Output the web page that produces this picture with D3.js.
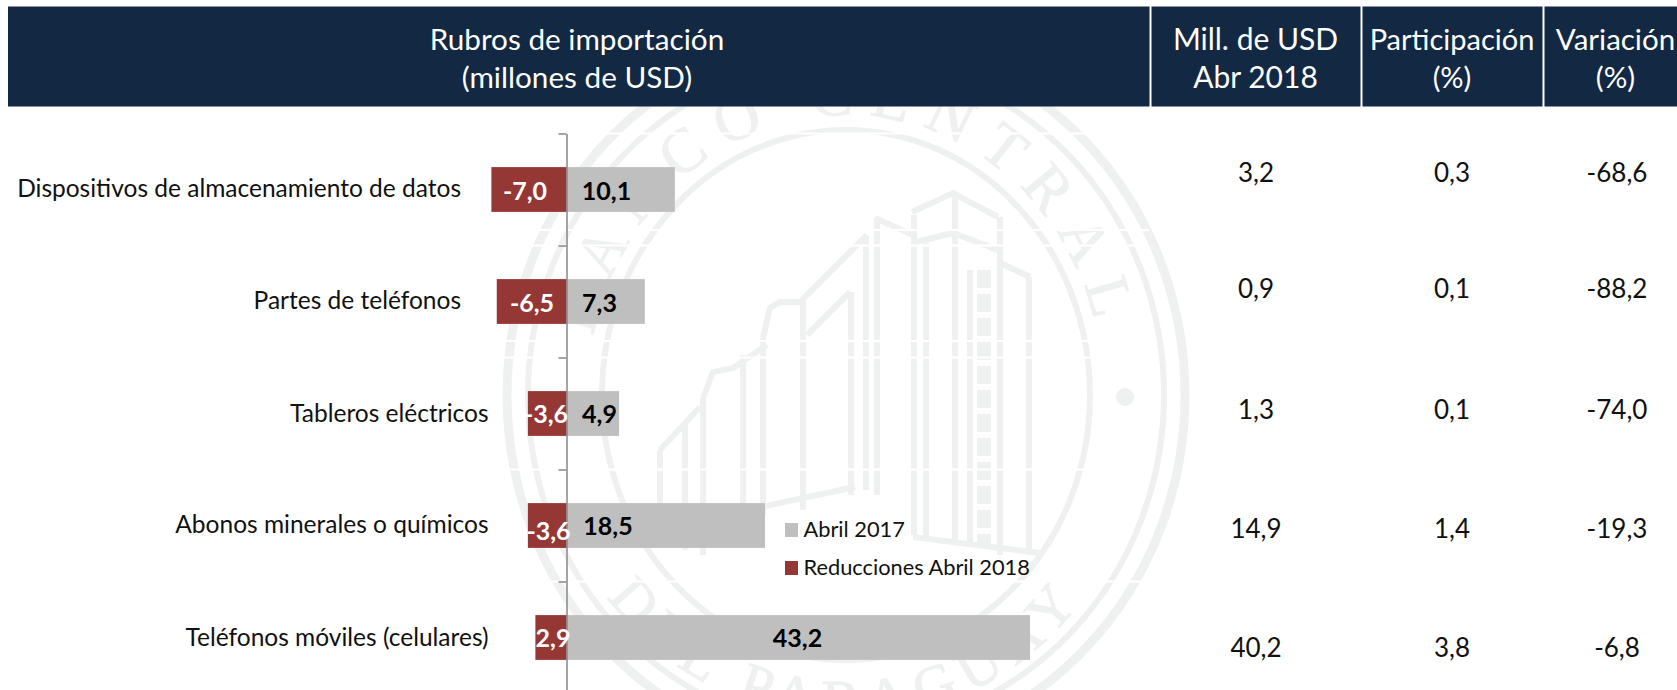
<!DOCTYPE html>
<html lang="es">
<head>
<meta charset="utf-8">
<title>Rubros de importación</title>
<script src="https://cdn.jsdelivr.net/npm/d3@7"></script>
<style>
    html, body { margin: 0; padding: 0; background: #fff; }
    svg { display: block; font-family: Lato, "Noto Sans", sans-serif; }
    .watermark { fill: none; stroke: #eef1ef; stroke-width: 6; }
    .watermark text { fill: #eef1ef; stroke: #eef1ef; stroke-width: 1; font-family: "Liberation Serif", serif; }
</style>
</head>
<body>
<svg id="chart" width="1677" height="690" role="img" aria-label="Rubros de importación"></svg>
<script>
// Values.
const categories = [
    "Dispositivos de almacenamiento de datos",
    "Partes de teléfonos",
    "Tableros eléctricos",
    "Abonos minerales o químicos",
    "Teléfonos móviles (celulares)",
];
const abril2017 = [10.1, 7.3, 4.9, 18.5, 43.2];
const reducciones = [-7.0, -6.5, -3.6, -3.6, -2.9];
const millUsd = [3.2, 0.9, 1.3, 14.9, 40.2];
const participacion = [0.3, 0.1, 0.1, 1.4, 3.8];
const variacion = [-68.6, -88.2, -74.0, -19.3, -6.8];
const seriesNames = ["Abril 2017", "Reducciones Abril 2018"];

const GREY = "#bfbfbf";
const RED = "#953735";
const NAVY = "#132842";

// Hand placement from the source slide: the labels are not aligned to anything.
const LABEL_RIGHT = [461, 461, 488.5, 488.5, 488.5];
const LABEL_BASE = [197, 309, 422, 533, 646];
const VALUE_BASE = [182, 298, 419, 538, 657];
const GREY_LABEL_X = [606.5, 599.5, 599.5, 608, 797.5];
const GREY_LABEL_BASE = [200, 312, 423, 535, 647];
const RED_LABEL_X = [525, 532, 546, 548.5, 553];
const RED_LABEL_BASE = [200, 312, 423, 540, 647];
// Thin white seams across the seal, besides the gridlines.
const SEAMS_Y = [230, 341];

const svg = d3.select("#chart");
const decimal = d3.formatLocale({
    decimal: ",", thousands: ".", grouping: [3], currency: ["", ""], minus: "-",
}).format(".1f");

const x = d3.scaleLinear().domain([0, 10]).range([566.5, 673.8]);
const y = d3.scaleBand()
    .domain(categories)
    .range([133.5, 693.5])
    .paddingInner(0.6)
    .paddingOuter(0.3);
const tickY = d3.scaleLinear().domain([0, 5]).range([133.5, 693.5]);

drawWatermark(svg.append("g").attr("class", "watermark"));

// White gridlines cut through the seal, as they do in the source.
svg.append("g")
    .selectAll("line")
    .data([0, 1, 2, 3, 4].map((d) => tickY(d)).concat(SEAMS_Y))
    .join("line")
    .attr("x1", 490).attr("x2", 1149)
    .attr("y1", (d) => d).attr("y2", (d) => d)
    .attr("stroke", "#fff").attr("stroke-width", 2);

// Header bands.
const HEADER_CELLS = [[8, 1149.5], [1151.5, 1360.5], [1362.5, 1542.5], [1544.5, 1677]];
svg.append("g")
    .selectAll("rect")
    .data(HEADER_CELLS)
    .join("rect")
    .attr("x", (d) => d[0]).attr("width", (d) => d[1] - d[0])
    .attr("y", 6.5).attr("height", 100)
    .attr("fill", NAVY);

const HEADER_TEXT = [
    { x: 577, size: 29.7, lines: ["Rubros de importación", "(millones de USD)"] },
    { x: 1255.5, size: 30, lines: ["Mill. de USD", "Abr 2018"] },
    { x: 1452, size: 29, lines: ["Participación", "(%)"] },
    { x: 1615.5, size: 29.5, lines: ["Variación", "(%)"] },
];
const headerGroups = svg.append("g")
    .selectAll("g")
    .data(HEADER_TEXT)
    .join("g");
headerGroups.selectAll("text")
    .data((d) => d.lines.map((line, i) => ({ line, i, x: d.x, size: d.size })))
    .join("text")
    .attr("x", (d) => d.x)
    .attr("y", (d) => (d.i === 0 ? 50 : 88))
    .attr("text-anchor", "middle")
    .attr("fill", "#fff")
    .attr("font-size", (d) => d.size)
    .text((d) => d.line);

// Bars.
const rows = categories.map((name, i) => ({ name, i }));
svg.append("g")
    .selectAll("rect")
    .data(rows)
    .join("rect")
    .attr("x", x(0))
    .attr("y", (d) => y(d.name))
    .attr("width", (d) => x(abril2017[d.i]) - x(0))
    .attr("height", y.bandwidth())
    .attr("fill", GREY);
svg.append("g")
    .selectAll("rect")
    .data(rows)
    .join("rect")
    .attr("x", (d) => x(reducciones[d.i]))
    .attr("y", (d) => y(d.name))
    .attr("width", (d) => x(0) - x(reducciones[d.i]))
    .attr("height", y.bandwidth())
    .attr("fill", RED);

// Vertical axis: ticks sit on the band edges, no tick labels.
const axis = svg.append("g")
    .attr("transform", `translate(${x(0)},0)`)
    .call(d3.axisLeft(tickY).tickValues([0, 1, 2, 3, 4]).tickSize(8).tickSizeOuter(0).tickFormat(""));
axis.selectAll("line").attr("stroke", "#868686").attr("stroke-width", 1.5);
axis.select(".domain").attr("stroke", "#868686").attr("stroke-width", 1.5);

// Category labels.
svg.append("g")
    .selectAll("text")
    .data(rows)
    .join("text")
    .attr("x", (d) => LABEL_RIGHT[d.i])
    .attr("y", (d) => LABEL_BASE[d.i])
    .attr("text-anchor", "end")
    .attr("fill", "#111")
    .attr("font-size", 24.5)
    .text((d) => d.name);

// Bar value labels.
svg.append("g")
    .selectAll("text")
    .data(rows)
    .join("text")
    .attr("x", (d) => GREY_LABEL_X[d.i])
    .attr("y", (d) => GREY_LABEL_BASE[d.i])
    .attr("text-anchor", "middle")
    .attr("font-weight", 700)
    .attr("font-size", 25)
    .attr("fill", "#000")
    .text((d) => decimal(abril2017[d.i]));
svg.append("g")
    .selectAll("text")
    .data(rows)
    .join("text")
    .attr("x", (d) => RED_LABEL_X[d.i])
    .attr("y", (d) => RED_LABEL_BASE[d.i])
    .attr("text-anchor", "middle")
    .attr("font-weight", 700)
    .attr("font-size", 25)
    .attr("fill", "#fff")
    // the last label loses its sign in the source
    .text((d) => (d.i === 4 ? decimal(-reducciones[d.i]) : decimal(reducciones[d.i])));

// Table columns on the right.
const COLUMNS = [
    { x: 1256, values: millUsd },
    { x: 1452, values: participacion },
    { x: 1617, values: variacion },
];
COLUMNS.forEach((col) => {
    svg.append("g")
        .selectAll("text")
        .data(col.values)
        .join("text")
        .attr("x", col.x)
        .attr("y", (d, i) => VALUE_BASE[i])
        .attr("text-anchor", "middle")
        .attr("fill", "#111")
        .attr("font-size", 26)
        .text((d) => decimal(d));
});

// Legend.
const legend = svg.append("g")
    .selectAll("g")
    .data(seriesNames)
    .join("g");
legend.append("rect")
    .attr("x", 785).attr("width", 13).attr("height", 14)
    .attr("y", (d, i) => (i === 0 ? 523 : 561))
    .attr("fill", (d, i) => (i === 0 ? GREY : RED));
legend.append("text")
    .attr("x", 803.5)
    .attr("y", (d, i) => (i === 0 ? 537 : 575))
    .attr("fill", "#111")
    .attr("font-size", 21.8)
    .text((d) => d);

// Faint seal behind the chart. It is a backdrop traced by eye, not data.
function drawWatermark(g) {
    const cx = 846, cy = 395;
    [[339, 358, 9], [318, 336, 6], [244, 265, 6]].forEach(([rx, ry, w]) => {
        g.append("ellipse")
            .attr("cx", cx).attr("cy", cy).attr("rx", rx).attr("ry", ry)
            .attr("stroke-width", w);
    });
    g.append("circle").attr("cx", 1125).attr("cy", 397).attr("r", 9)
        .attr("fill", "#eef1ef").attr("stroke", "none");

    const defs = g.append("defs");
    defs.append("path").attr("id", "sealTop")
        .attr("d", `M${cx - 258},${cy} A258,280 0 0 1 ${cx + 258},${cy}`);
    defs.append("path").attr("id", "sealBottom")
        .attr("d", `M${cx - 305},${cy} A305,325 0 0 0 ${cx + 305},${cy}`);
    [["#sealTop", "BANCO CENTRAL", 16, 62], ["#sealBottom", "DEL PARAGUAY", 10, 58]].forEach(([href, label, gap, size]) => {
        g.append("text")
            .attr("font-size", size)
            .attr("letter-spacing", gap)
            .append("textPath")
            .attr("href", href)
            .attr("startOffset", "50%")
            .attr("text-anchor", "middle")
            .text(label);
    });

    // Tower columns.
    const columns = [
        [660, 450, 545], [685, 425, 550], [703, 398, 555], [743, 355, 520], [763, 338, 515],
        [803, 300, 510], [851, 292, 495], [866, 235, 490], [877, 218, 495], [914, 215, 535],
        [926, 243, 538], [955, 193, 545], [1000, 217, 555], [1029, 277, 555],
    ];
    g.append("g").selectAll("line")
        .data(columns)
        .join("line")
        .attr("x1", (d) => d[0]).attr("x2", (d) => d[0])
        .attr("y1", (d) => d[1]).attr("y2", (d) => d[2]);

    // Roof lines and base.
    const outlines = [
        [[875, 218], [913, 235]],
        [[912, 212], [953, 193], [998, 217]],
        [[912, 243], [953, 233], [998, 250]],
        [[998, 262], [1030, 277]],
        [[800, 302], [867, 235]],
        [[807, 335], [850, 292]],
        [[763, 338], [770, 308], [780, 302], [800, 302]],
        [[703, 398], [713, 372], [733, 368], [767, 345]],
        [[660, 450], [700, 407]],
        [[640, 545], [700, 520], [855, 487]],
        [[913, 537], [1040, 553]],
    ];
    g.append("g").selectAll("path")
        .data(outlines)
        .join("path")
        .attr("d", d3.line());

    // Patterned strip on the tower face.
    g.append("line")
        .attr("x1", 970).attr("x2", 970).attr("y1", 270).attr("y2", 545);
    g.append("line")
        .attr("x1", 984).attr("x2", 984).attr("y1", 270).attr("y2", 548)
        .attr("stroke-width", 14)
        .attr("stroke-dasharray", "18 6");
}
</script>
</body>
</html>
